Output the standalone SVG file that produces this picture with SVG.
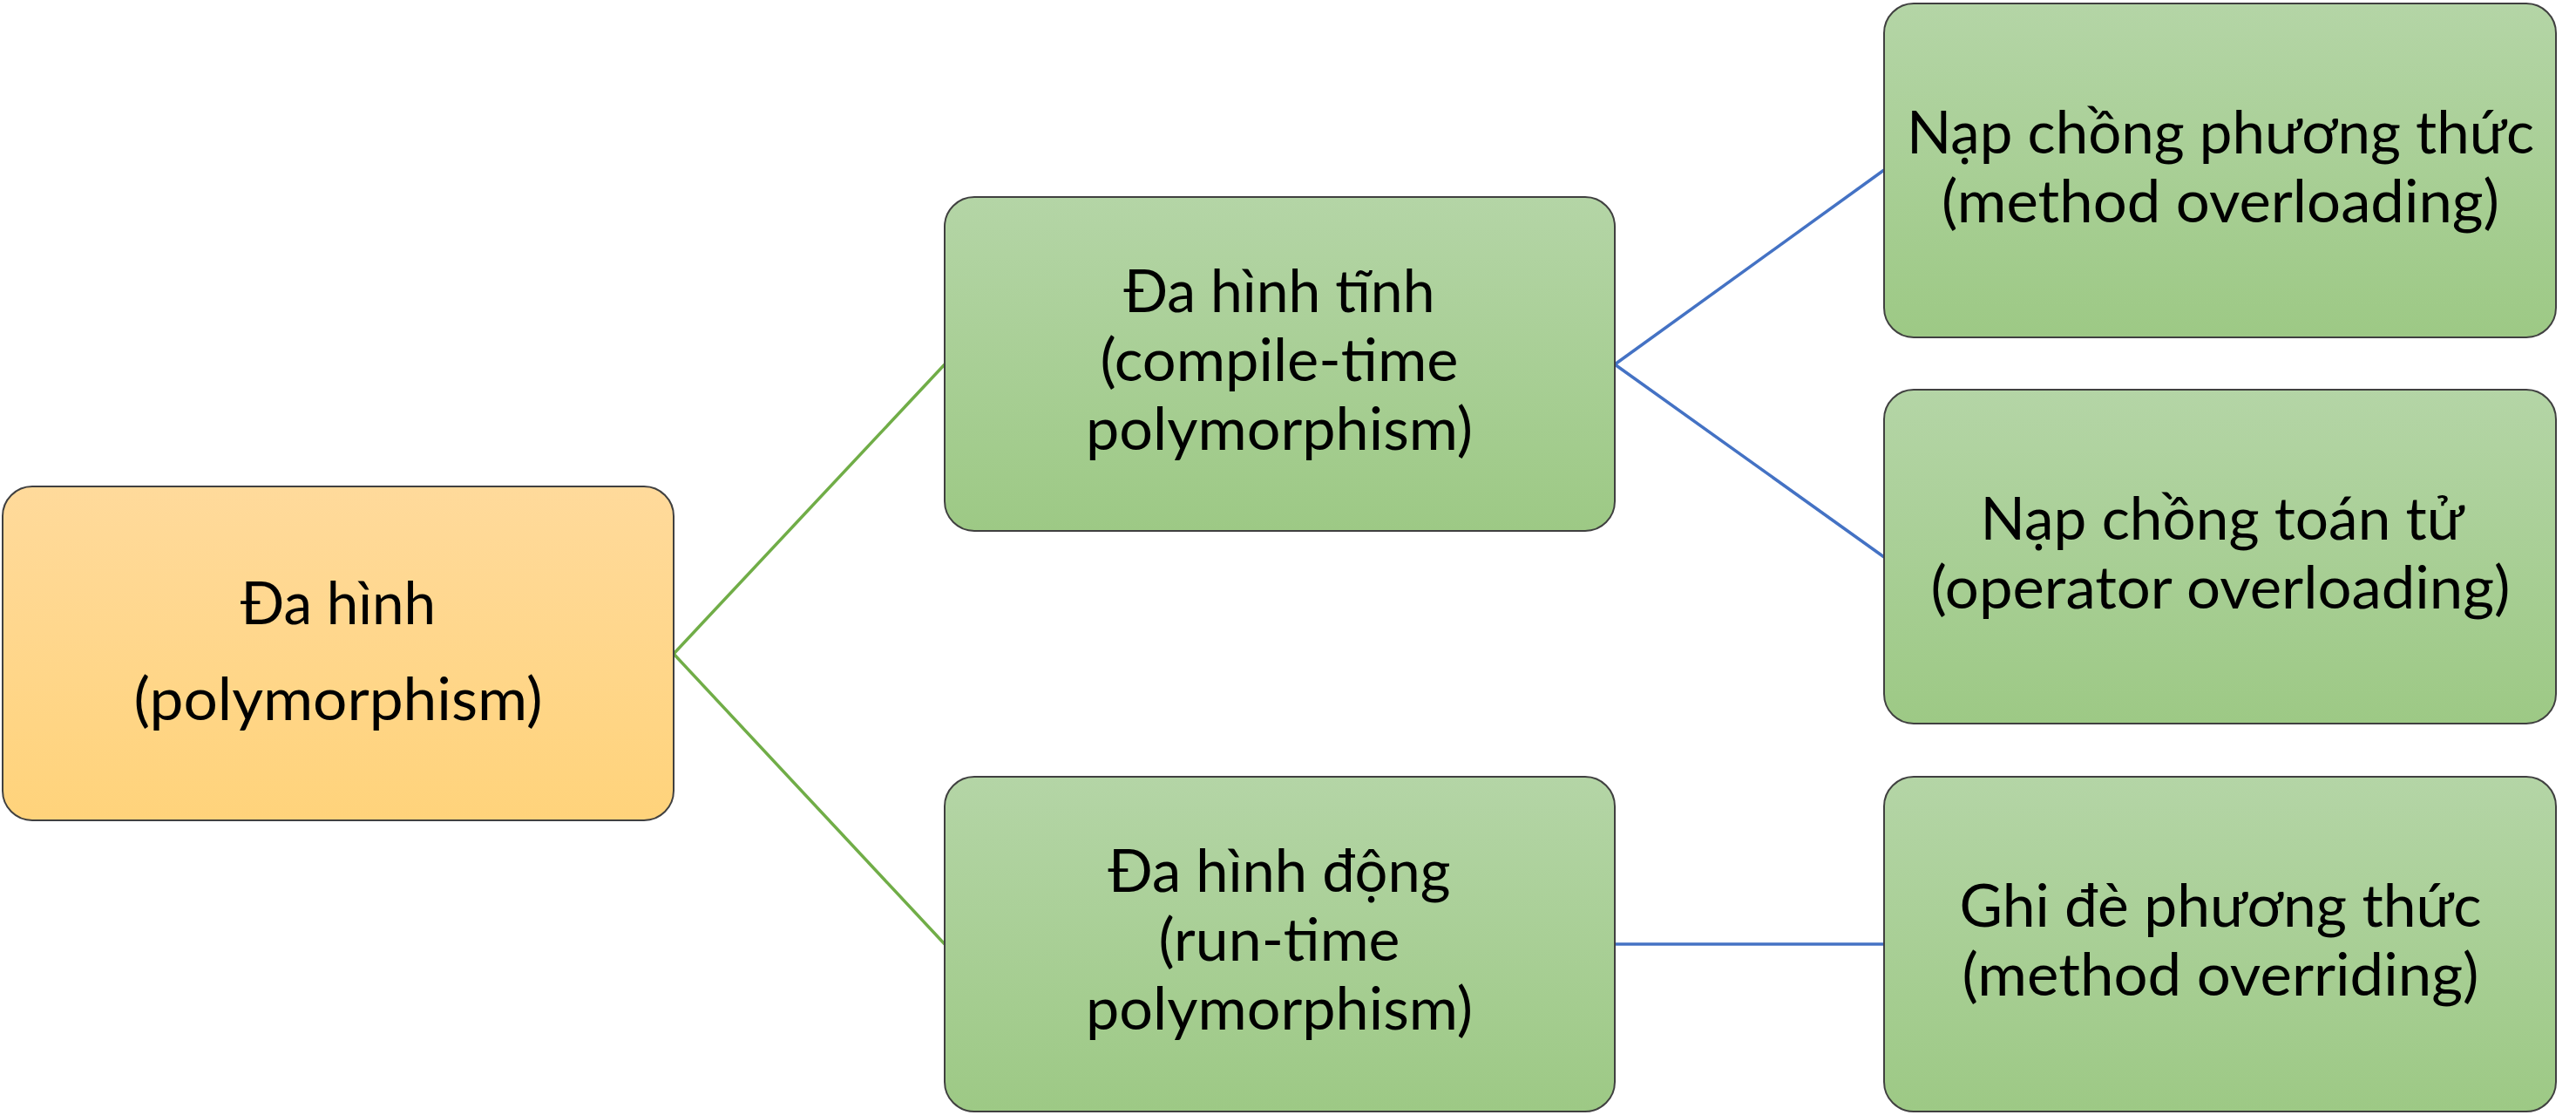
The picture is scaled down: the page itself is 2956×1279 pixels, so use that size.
<svg xmlns="http://www.w3.org/2000/svg" width="2956" height="1279" viewBox="0 0 2956 1279">
<defs>
<linearGradient id="gOrange" x1="0" y1="0" x2="0" y2="1">
<stop offset="0" stop-color="#FFDA9B"/>
<stop offset="1" stop-color="#FFD37B"/>
</linearGradient>
<linearGradient id="gGreen" x1="0" y1="0" x2="0" y2="1">
<stop offset="0" stop-color="#B4D5A6"/>
<stop offset="1" stop-color="#9DC985"/>
</linearGradient>
</defs>
<style>
.box{stroke:#404040;stroke-width:2}
.orange{fill:url(#gOrange)}
.green{fill:url(#gGreen)}
.lbl{font-family:Lato,"Open Sans","Liberation Sans",sans-serif;font-size:68px;fill:#000;text-anchor:middle}
.cg{stroke:#70AD47;stroke-width:3.5;fill:none}
.cb{stroke:#4472C4;stroke-width:3.5;fill:none}
</style>
<rect width="2956" height="1279" fill="#FFFFFF"/>
<g id="connectors">
<path class="cg" d="M773,750 L1084,418"/>
<path class="cg" d="M773,750 L1084,1083"/>
<path class="cb" d="M1853,418 L2162,195"/>
<path class="cb" d="M1853,418 L2162,639"/>
<path class="cb" d="M1853,1083 L2162,1083"/>
</g>
<g id="root">
<rect class="box orange" x="3" y="558" width="770" height="383" rx="34" ry="34"/>
<text class="lbl" x="388" y="716" textLength="224" lengthAdjust="spacingAndGlyphs">Đa hình</text>
<text class="lbl" x="388" y="826" textLength="469" lengthAdjust="spacingAndGlyphs">(polymorphism)</text>
</g>
<g id="static">
<rect class="box green" x="1084" y="226" width="769" height="383" rx="34" ry="34"/>
<text class="lbl" x="1468" y="358" textLength="357" lengthAdjust="spacingAndGlyphs">Đa hình tĩnh</text>
<text class="lbl" x="1468" y="437" textLength="411" lengthAdjust="spacingAndGlyphs">(compile-time</text>
<text class="lbl" x="1468" y="516" textLength="444" lengthAdjust="spacingAndGlyphs">polymorphism)</text>
</g>
<g id="dynamic">
<rect class="box green" x="1084" y="891" width="769" height="384" rx="34" ry="34"/>
<text class="lbl" x="1468" y="1023" textLength="393" lengthAdjust="spacingAndGlyphs">Đa hình động</text>
<text class="lbl" x="1468" y="1102" textLength="277" lengthAdjust="spacingAndGlyphs">(run-time</text>
<text class="lbl" x="1468" y="1181" textLength="444" lengthAdjust="spacingAndGlyphs">polymorphism)</text>
</g>
<g id="method-overloading">
<rect class="box green" x="2162" y="4" width="771" height="383" rx="34" ry="34"/>
<text class="lbl" x="2548" y="176" textLength="720" lengthAdjust="spacingAndGlyphs">Nạp chồng phương thức</text>
<text class="lbl" x="2548" y="255" textLength="640" lengthAdjust="spacingAndGlyphs">(method overloading)</text>
</g>
<g id="operator-overloading">
<rect class="box green" x="2162" y="447" width="771" height="383" rx="34" ry="34"/>
<text class="lbl" x="2550" y="619" textLength="555" lengthAdjust="spacingAndGlyphs">Nạp chồng toán tử</text>
<text class="lbl" x="2548" y="698" textLength="665" lengthAdjust="spacingAndGlyphs">(operator overloading)</text>
</g>
<g id="method-overriding">
<rect class="box green" x="2162" y="891" width="771" height="384" rx="34" ry="34"/>
<text class="lbl" x="2548" y="1063" textLength="599" lengthAdjust="spacingAndGlyphs">Ghi đè phương thức</text>
<text class="lbl" x="2548" y="1142" textLength="593" lengthAdjust="spacingAndGlyphs">(method overriding)</text>
</g>
</svg>
